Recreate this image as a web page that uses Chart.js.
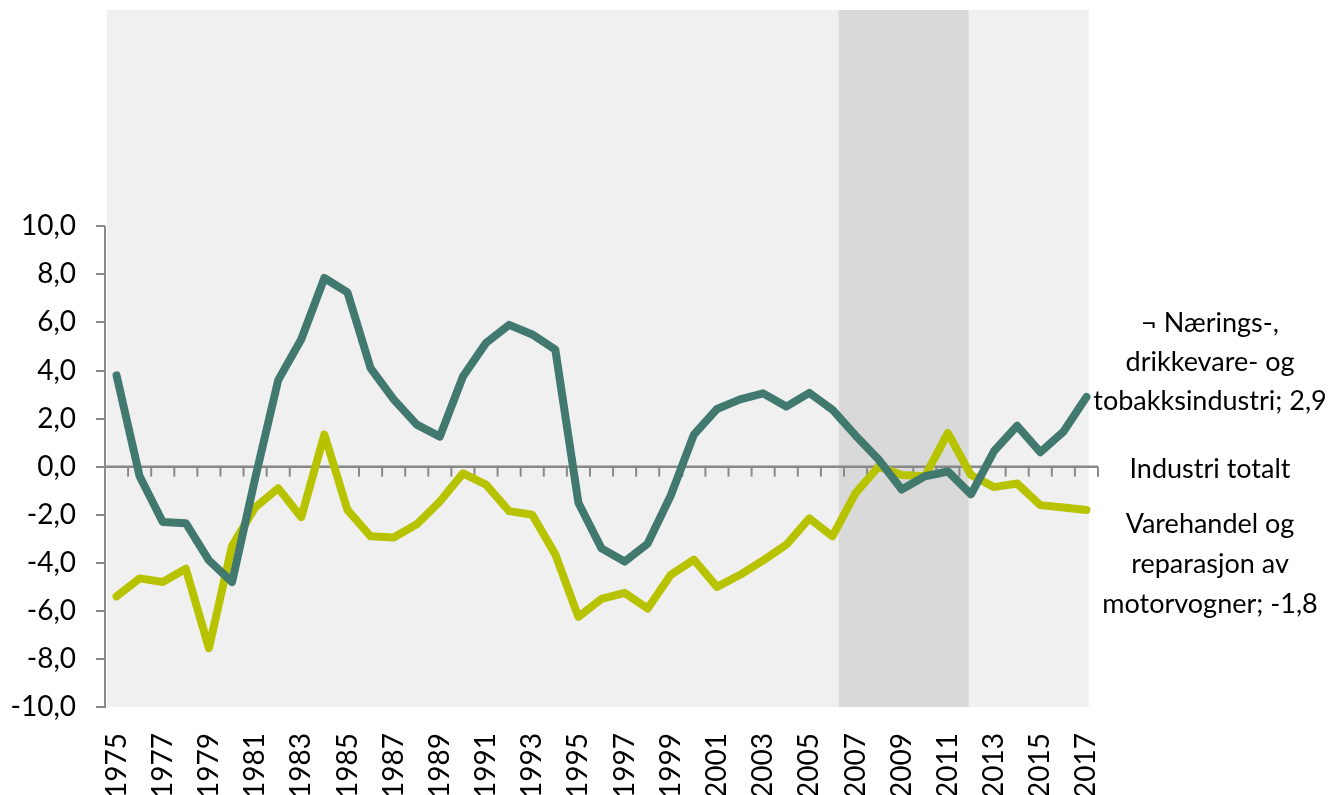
<!DOCTYPE html>
<html>
<head>
<meta charset="utf-8">
<script src="https://cdn.jsdelivr.net/npm/chart.js@4"></script>
<style>
html,body{margin:0;padding:0;background:#fff;}
canvas{display:block;}
</style>
</head>
<body>
<canvas id="c" width="1343" height="795"></canvas>
<script>
const years = [];
for (let y = 1975; y <= 2017; y++) years.push(String(y));

const naeringsLabel = ['¬ Nærings-,', 'drikkevare- og', 'tobakksindustri; 2,9'];
const naerings = [3.8, -0.4, -2.3, -2.35, -3.9, -4.8, -0.5, 3.6, 5.3, 7.85,
  7.25, 4.1, 2.8, 1.75, 1.25, 3.75, 5.15, 5.9, 5.5, 4.87,
  -1.5, -3.4, -3.95, -3.2, -1.2, 1.33, 2.4, 2.8, 3.05, 2.5,
  3.07, 2.37, 1.3, 0.3, -0.95, -0.4, -0.2, -1.15, 0.65, 1.7,
  0.6, 1.45, 2.9];

const varehandelLabel = ['Varehandel og', 'reparasjon av', 'motorvogner; -1,8'];
const varehandel = [-5.4, -4.65, -4.8, -4.25, -7.55, -3.3, -1.7, -0.9, -2.1, 1.33,
  -1.8, -2.9, -2.95, -2.4, -1.45, -0.28, -0.75, -1.85, -2.0, -3.65,
  -6.25, -5.5, -5.25, -5.9, -4.5, -3.87, -5.0, -4.5, -3.9, -3.25,
  -2.15, -2.9, -1.1, 0.0, -0.35, -0.4, 1.4, -0.35, -0.85, -0.7,
  -1.6, -1.7, -1.8];

const industriLabel = 'Industri totalt';
const yTicks = [-10, -8, -6, -4, -2, 0, 2, 4, 6, 8, 10];
// shaded period (fractional category positions) and full background span
const shadeStart = 31.27, shadeEnd = 36.9;
const bgStart = -0.41, bgEnd = 42.1;

const FONT = 'Lato, "Open Sans", sans-serif';
const AXIS = '#898989';

const decor = {
  id: 'decor',
  beforeDatasetsDraw(chart) {
    const {ctx, chartArea: a, scales: {x, y}} = chart;
    ctx.save();
    ctx.fillStyle = '#f0f0f0';
    const bx0 = x.getPixelForValue(bgStart), bx1 = x.getPixelForValue(bgEnd);
    ctx.fillRect(bx0, a.top, bx1 - bx0, a.bottom - a.top);
    ctx.fillStyle = '#d9d9d9';
    const sx0 = x.getPixelForValue(shadeStart), sx1 = x.getPixelForValue(shadeEnd);
    ctx.fillRect(sx0, a.top, sx1 - sx0, a.bottom - a.top);
    // y axis line
    ctx.strokeStyle = AXIS;
    ctx.lineWidth = 2;
    ctx.beginPath();
    ctx.moveTo(a.left, y.getPixelForValue(yTicks[yTicks.length - 1]));
    ctx.lineTo(a.left, y.getPixelForValue(yTicks[0]) + 1);
    ctx.stroke();
    // zero axis (Industri totalt) with category ticks
    const y0 = y.getPixelForValue(0);
    ctx.lineWidth = 2.5;
    ctx.beginPath();
    ctx.moveTo(a.left, y0);
    ctx.lineTo(a.right, y0);
    ctx.stroke();
    ctx.lineWidth = 2;
    const step = x.getPixelForValue(1) - x.getPixelForValue(0);
    for (let i = 0; i < years.length; i++) {
      const tx = x.getPixelForValue(i) + step / 2;
      ctx.beginPath();
      ctx.moveTo(tx, y0);
      ctx.lineTo(tx, y0 + 10);
      ctx.stroke();
    }
    ctx.restore();
  },
  afterDraw(chart) {
    const {ctx, scales: {y}} = chart;
    ctx.save();
    ctx.fillStyle = '#000';
    ctx.font = '27px ' + FONT;
    ctx.textAlign = 'center';
    ctx.textBaseline = 'middle';
    const cx = 1210;
    const yN = y.getPixelForValue(naerings[naerings.length - 1]);
    naeringsLabel.forEach((t, i) => ctx.fillText(t, cx, yN - 74 + i * 39));
    ctx.fillText(industriLabel, cx, y.getPixelForValue(0) + 3);
    const yV = y.getPixelForValue(varehandel[varehandel.length - 1]);
    varehandelLabel.forEach((t, i) => ctx.fillText(t, cx, yV + 14 + i * 40));
    ctx.restore();
  }
};

new Chart(document.getElementById('c'), {
  type: 'line',
  data: {
    labels: years,
    datasets: [
      {label: naeringsLabel.join(' '), data: naerings, borderColor: '#41796f',
       borderWidth: 8, pointRadius: 0, tension: 0, borderJoinStyle: 'round', borderCapStyle: 'round'},
      {label: varehandelLabel.join(' '), data: varehandel, borderColor: '#b8c300',
       borderWidth: 8, pointRadius: 0, tension: 0, borderJoinStyle: 'round', borderCapStyle: 'round'}
    ]
  },
  options: {
    responsive: false,
    animation: false,
    layout: {padding: {top: 10, right: 245, left: 0, bottom: 0}},
    plugins: {legend: {display: false}, tooltip: {enabled: false}},
    scales: {
      x: {
        offset: true,
        grid: {display: false},
        border: {display: false},
        ticks: {
          autoSkip: false, minRotation: 90, maxRotation: 90, padding: 18,
          color: '#000', font: {family: FONT, size: 28},
          callback: (v, i) => (i % 2 === 0 ? years[i] : '')
        },
        afterFit: s => { s.height = 88; s.paddingLeft = 0; s.paddingRight = 0; }
      },
      y: {
        min: -10, max: 19,
        grid: {drawOnChartArea: false, color: AXIS, lineWidth: 2, tickLength: 9},
        border: {display: false},
        ticks: {
          stepSize: 2, padding: 20, color: '#000', font: {family: FONT, size: 28},
          callback: v => v.toFixed(1).replace('.', ',')
        },
        afterBuildTicks: s => { s.ticks = yTicks.map(v => ({value: v})); },
        afterFit: s => { s.width = 105; s.paddingTop = 0; s.paddingBottom = 0; }
      }
    }
  },
  plugins: [decor]
});
</script>
</body>
</html>
